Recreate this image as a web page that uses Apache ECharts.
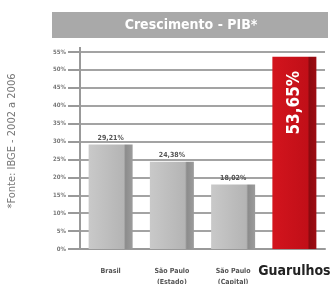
<!DOCTYPE html>
<html>
<head>
<meta charset="utf-8">
<script src="https://cdn.jsdelivr.net/npm/echarts@6/dist/echarts.min.js"></script>
<style>
html,body{margin:0;padding:0;background:#fff;}
#main{width:332px;height:284px;}
</style>
</head>
<body>
<div id="main"></div>
<script>
var categorias = ['Brasil', 'São Paulo\n(Estado)', 'São Paulo\n(Capital)', 'Guarulhos'];
var valores = [29.21, 24.38, 18.02, 53.65];
var rotulos = ['29,21%', '24,38%', '18,02%', '53,65%'];
var ticks = ['0%', '5%', '10%', '15%', '20%', '25%', '30%', '35%', '40%', '45%', '50%', '55%'];

var fonteC = '"DejaVu Sans Condensed", "Liberation Sans Narrow", sans-serif';

var myChart = echarts.init(document.getElementById('main'));

var cinza = new echarts.graphic.LinearGradient(0, 0, 1, 0, [
    {offset: 0, color: '#c9c9c9'},
    {offset: 0.8, color: '#b4b4b4'},
    {offset: 0.84, color: '#8c8c8c'},
    {offset: 1, color: '#9c9c9c'}
]);
var vermelho = new echarts.graphic.LinearGradient(0, 0, 1, 0, [
    {offset: 0, color: '#d3141d'},
    {offset: 0.8, color: '#c10f18'},
    {offset: 0.84, color: '#8c0a10'},
    {offset: 1, color: '#9e0c12'}
]);

var dados = valores.map(function (v, i) {
    var ultimo = i === valores.length - 1;
    return {
        value: v,
        itemStyle: {color: ultimo ? vermelho : cinza},
        label: ultimo ? {
            show: true,
            position: 'insideTop',
            rotate: 90,
            align: 'right',
            verticalAlign: 'middle',
            distance: 12,
            offset: [-2, 0],
            color: '#fff',
            fontSize: 17,
            fontWeight: 'bold',
            fontFamily: fonteC,
            formatter: rotulos[i]
        } : {
            show: true,
            position: 'top',
            distance: 3,
            color: '#555',
            fontSize: 7,
            fontWeight: 'bold',
            fontFamily: fonteC,
            formatter: rotulos[i]
        }
    };
});

var option = {
    animation: false,
    graphic: [
        {
            type: 'rect',
            shape: {x: 52, y: 12, width: 276, height: 26},
            style: {fill: '#a9a9a9'}
        },
        {
            type: 'text',
            x: 191, y: 25,
            style: {
                text: 'Crescimento - PIB*',
                fill: '#fff',
                font: 'bold 14px ' + fonteC,
                textAlign: 'center',
                textVerticalAlign: 'middle'
            }
        },
        {
            type: 'text',
            x: 12, y: 141,
            rotation: Math.PI / 2,
            style: {
                text: '*Fonte: IBGE - 2002 a 2006',
                fill: '#777',
                font: '11px ' + fonteC,
                textAlign: 'center',
                textVerticalAlign: 'middle'
            }
        },
        {
            type: 'line',
            shape: {x1: 80, y1: 47, x2: 80, y2: 52},
            style: {stroke: '#999', lineWidth: 2}
        }
    ],
    grid: {left: 80, right: 7, top: 52, bottom: 35, outerBoundsMode: 'none'},
    xAxis: {
        type: 'category',
        data: categorias,
        axisLine: {lineStyle: {color: '#999', width: 2}},
        axisTick: {show: false},
        axisLabel: {
            interval: 0,
            color: '#555',
            fontSize: 7,
            fontWeight: 'bold',
            fontFamily: fonteC,
            lineHeight: 11,
            margin: 17,
            formatter: function (v) {
                return v === 'Guarulhos' ? '{g|' + v + '}' : v;
            },
            rich: {
                g: {
                    color: '#222',
                    fontSize: 14,
                    fontWeight: 'bold',
                    fontFamily: fonteC,
                    lineHeight: 11
                }
            }
        }
    },
    yAxis: {
        type: 'value',
        min: 0,
        max: 55,
        interval: 5,
        axisLine: {show: true, lineStyle: {color: '#999', width: 2}},
        axisTick: {show: true, length: 12, lineStyle: {color: '#999', width: 2}},
        axisLabel: {
            color: '#777',
            fontSize: 6,
            fontWeight: 'bold',
            fontFamily: fonteC,
            margin: 14,
            formatter: function (v) { return ticks[v / 5]; }
        },
        splitLine: {lineStyle: {color: '#a3a3a3', width: 2}}
    },
    series: [{
        type: 'bar',
        barWidth: 44,
        data: dados
    }]
};

myChart.setOption(option);
</script>
</body>
</html>
